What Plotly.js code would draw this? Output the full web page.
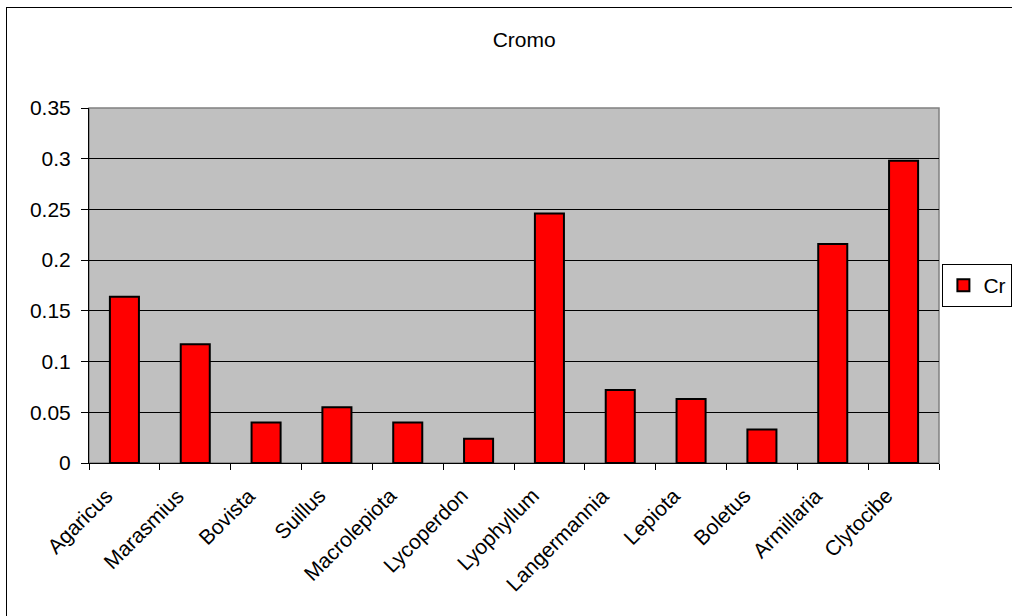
<!DOCTYPE html>
<html>
<head>
<meta charset="utf-8">
<script src="https://cdn.plot.ly/plotly-3.0.1.min.js"></script>
<style>
  html, body { margin: 0; padding: 0; background: #fff; overflow: hidden; }
  #chart { position: absolute; left: 0; top: 0; width: 1012px; height: 616px; }
  #frame { position: absolute; left: 6px; top: 7px; width: 1100px; height: 700px; border: 1.5px solid #000; pointer-events: none; }
</style>
</head>
<body>
<div id="chart"></div>
<div id="frame"></div>
<script>
const categories = ["Agaricus", "Marasmius", "Bovista", "Suillus", "Macrolepiota", "Lycoperdon",
  "Lyophyllum", "Langermannia", "Lepiota", "Boletus", "Armillaria", "Clytocibe"];
const crValues = [0.164, 0.117, 0.040, 0.055, 0.040, 0.024, 0.246, 0.072, 0.063, 0.033, 0.216, 0.298];
const yTickVals = [0, 0.05, 0.1, 0.15, 0.2, 0.25, 0.3, 0.35];
const yTickText = ["0", "0.05", "0.1", "0.15", "0.2", "0.25", "0.3", "0.35"];
const seriesName = "Cr";
const chartTitle = "Cromo";

const font = "Liberation Sans, Arial, sans-serif";
const fs = 21;

const trace = {
  type: "bar",
  x: categories,
  y: crValues,
  name: seriesName,
  marker: { color: "#FF0000", line: { color: "#000000", width: 2 } },
  showlegend: true
};

const catLabels = categories.map(c => ({
  x: c, xref: "x", y: 0, yref: "paper",
  text: c, showarrow: false, textangle: -45,
  xanchor: "right", yanchor: "top",
  xshift: -4, yshift: -18,
  font: { family: font, size: fs, color: "#000" }
}));

const layout = {
  width: 1012,
  height: 616,
  margin: { l: 89, r: 73, t: 108, b: 153, pad: 0, autoexpand: false },
  paper_bgcolor: "#ffffff",
  plot_bgcolor: "#C0C0C0",
  font: { family: font, size: fs, color: "#000" },
  title: { text: chartTitle, x: 0.518, xref: "container", xanchor: "center", y: 0.935, yref: "container", yanchor: "middle", font: { family: font, size: fs, color: "#000" } },
  bargap: 0.59,
  showlegend: true,
  legend: {
    x: 1.004, xanchor: "left", y: 0.5, yanchor: "middle",
    bordercolor: "#000", borderwidth: 1, bgcolor: "#fff",
    font: { family: font, size: fs, color: "#000" },
    itemwidth: 30
  },
  xaxis: {
    type: "category",
    categoryorder: "array", categoryarray: categories,
    range: [-0.5, categories.length - 0.5],
    autorange: false,
    ticks: "outside", ticklen: 6, tickcolor: "#000", tickwidth: 1,
    tickson: "boundaries",
    showticklabels: false,
    showline: true, linecolor: "#000", linewidth: 1,
    showgrid: false, zeroline: false,
    fixedrange: true
  },
  yaxis: {
    range: [0, 0.35],
    autorange: false,
    tickvals: yTickVals, ticktext: yTickText,
    ticks: "outside", ticklen: 7, tickcolor: "#000", tickwidth: 1,
    ticklabelstandoff: 6,
    showline: true, linecolor: "#000", linewidth: 1,
    showgrid: true, gridcolor: "#000", gridwidth: 1,
    zeroline: false,
    tickfont: { family: font, size: fs, color: "#000" },
    fixedrange: true
  },
  annotations: catLabels,
  shapes: [{
    type: "rect", xref: "paper", yref: "paper", x0: 0, x1: 1, y0: 0, y1: 1,
    line: { color: "#808080", width: 1.5 }, layer: "below", fillcolor: "rgba(0,0,0,0)"
  }]
};

Plotly.newPlot("chart", [trace], layout, { displayModeBar: false, staticPlot: true });
</script>
</body>
</html>
